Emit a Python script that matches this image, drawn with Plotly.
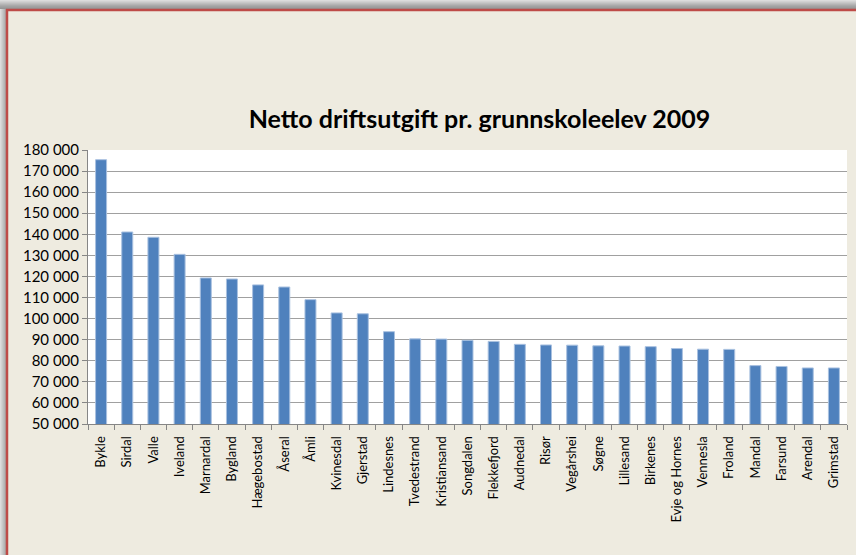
import plotly.graph_objects as go

# Netto driftsutgift per grunnskoleelev, Agder-kommuner 2009 (kr)
kommuner = [
    "Bykle", "Sirdal", "Valle", "Iveland", "Marnardal", "Bygland", "Hægebostad",
    "Åseral", "Åmli", "Kvinesdal", "Gjerstad", "Lindesnes", "Tvedestrand",
    "Kristiansand", "Songdalen", "Flekkefjord", "Audnedal", "Risør", "Vegårshei",
    "Søgne", "Lillesand", "Birkenes", "Evje og Hornes", "Vennesla", "Froland",
    "Mandal", "Farsund", "Arendal", "Grimstad",
]
utgift = [
    175400, 141100, 138600, 130500, 119300, 118800, 116000,
    115000, 109000, 102700, 102300, 93800, 90400,
    90300, 89700, 89200, 87800, 87500, 87400,
    87100, 87000, 86700, 85800, 85500, 85400,
    77700, 77300, 76600, 76600,
]
y_ticks = list(range(50000, 180001, 10000))

W, H = 856, 555
L, R, T, B = 88, 9, 150, 131
PW, PH = W - L - R, H - T - B


def xp(px):
    return (px - L) / PW


def yp(py):
    return (H - B - py) / PH


fig = go.Figure(
    go.Bar(
        x=kommuner,
        y=utgift,
        marker=dict(color="#4F81BD", line=dict(color="#A9C1E0", width=1)),
        width=0.42,
    )
)

# window frame: soft grey shadow with red border line
shapes = []
greys = ["#dcdcdc", "#d2d2d2", "#c8c8c8", "#bebebe", "#b4b4b4", "#aaaaaa", "#a2a2a2", "#9c9c9c", "#969696"]
for i, c in enumerate(greys):
    shapes.append(dict(type="rect", xref="paper", yref="paper", layer="below",
                       x0=xp(0), x1=xp(W), y0=yp(i + 1), y1=yp(i),
                       fillcolor=c, line=dict(width=0)))
for i, c in enumerate(greys[:6]):
    shapes.append(dict(type="rect", xref="paper", yref="paper", layer="below",
                       x0=xp(i), x1=xp(i + 1), y0=yp(H), y1=yp(9),
                       fillcolor=c, line=dict(width=0)))
shapes.append(dict(type="line", xref="paper", yref="paper",
                   x0=xp(6), x1=xp(W), y0=yp(10), y1=yp(10),
                   line=dict(color="#BE4B48", width=2.5)))
shapes.append(dict(type="line", xref="paper", yref="paper",
                   x0=xp(7), x1=xp(7), y0=yp(9), y1=yp(H),
                   line=dict(color="#BE4B48", width=2.5)))

fig.update_layout(
    width=W, height=H,
    margin=dict(l=L, r=R, t=T, b=B, pad=0),
    paper_bgcolor="#EEEBE0",
    plot_bgcolor="#FFFFFF",
    separators=", ",
    showlegend=False,
    shapes=shapes,
    title=dict(
        text="<b>Netto driftsutgift pr. grunnskoleelev 2009</b>",
        font=dict(family="Lato", size=25, color="#000000"),
        xref="container", yref="container",
        x=479.5 / W, y=1 - 119 / H, xanchor="center", yanchor="middle",
    ),
    font=dict(family="Lato", color="#000000"),
    bargap=0.58,
)

fig.update_xaxes(
    type="category",
    tickangle=-90,
    tickfont=dict(size=13, family="Lato"),
    ticks="outside", ticklen=5, tickcolor="#868686", tickson="boundaries",
    ticklabelstandoff=6,
    showline=True, linecolor="#868686", linewidth=1,
    showgrid=False,
)
fig.update_yaxes(
    range=[50000, 180000],
    tickvals=y_ticks,
    tickformat=",d",
    tickfont=dict(size=15, family="Lato"),
    ticks="outside", ticklen=5, tickcolor="#868686",
    showline=True, linecolor="#868686", linewidth=1,
    showgrid=True, gridcolor="#A0A0A0", gridwidth=1.2,
    zeroline=False,
)

fig.write_html("out.html")
